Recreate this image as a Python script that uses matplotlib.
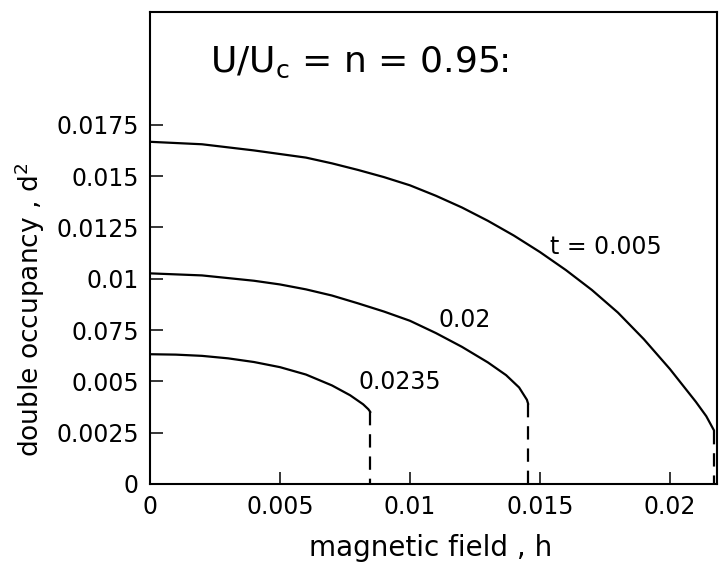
import numpy as np
import matplotlib
matplotlib.use('Agg')
import matplotlib.pyplot as plt

plt.rcParams['font.family'] = ['DejaVu Sans']
plt.rcParams['mathtext.default'] = 'regular'

# double occupancy d^2 vs magnetic field h, one curve per temperature t
h_t0005 = [0.0, 0.002, 0.004, 0.006, 0.007, 0.008, 0.009, 0.010, 0.011, 0.012,
           0.013, 0.014, 0.015, 0.016, 0.017, 0.018, 0.019, 0.020, 0.021,
           0.0214, 0.0217]
d2_t0005 = [0.01667, 0.01655, 0.01625, 0.01590, 0.01562, 0.01530, 0.01495, 0.01455,
            0.01404, 0.01347, 0.01282, 0.01210, 0.01130, 0.01042, 0.00945, 0.00835,
            0.00705, 0.00560, 0.00400, 0.00330, 0.00260]

h_t002 = [0.0, 0.002, 0.004, 0.005, 0.006, 0.007, 0.008, 0.009, 0.010, 0.011,
          0.012, 0.013, 0.0137, 0.0142, 0.0145, 0.01455]
d2_t002 = [0.01026, 0.01016, 0.00990, 0.00972, 0.00948, 0.00918, 0.00880, 0.00840,
           0.00795, 0.00735, 0.00668, 0.00592, 0.00530, 0.00470, 0.00410, 0.00389]

h_t00235 = [0.0, 0.001, 0.002, 0.003, 0.004, 0.005, 0.006, 0.007, 0.0077,
            0.0082, 0.0084, 0.00848]
d2_t00235 = [0.00632, 0.00630, 0.00624, 0.00612, 0.00594, 0.00569, 0.00533, 0.00480,
             0.00432, 0.00388, 0.00364, 0.00350]

curves = [(h_t0005, d2_t0005), (h_t002, d2_t002), (h_t00235, d2_t00235)]
curve_labels = ['t = 0.005', '0.02', '0.0235']
label_pos = [(0.01754, 0.01152), (0.01209, 0.00797), (0.0096, 0.00496)]

xticks = [0.0, 0.005, 0.01, 0.015, 0.02]
xticklabels = ['0', '0.005', '0.01', '0.015', '0.02']
yticks = [0.0, 0.0025, 0.005, 0.0075, 0.01, 0.0125, 0.015, 0.0175]
yticklabels = ['0', '0.0025', '0.005', '0.075', '0.01', '0.0125', '0.015', '0.0175']

fig = plt.figure(figsize=(7.21, 5.66), dpi=100)
ax = fig.add_axes([0.208, 0.145, 0.786, 0.834])

for (h, d2), lab, (lx, ly) in zip(curves, curve_labels, label_pos):
    ax.plot(h, d2, 'k-', lw=1.6, solid_capstyle='round', solid_joinstyle='round')
    # first-order jump: dashed drop to zero
    ax.plot([h[-1], h[-1]], [d2[-1], 0.0], 'k-', lw=1.6, dashes=(6, 4))
    ax.text(lx, ly, lab, fontsize=17, ha='center', va='center')

ax.text(0.0023, 0.02056, 'U/U$_c$ = n = 0.95:', fontsize=26, ha='left', va='center')

ax.set_xlim(0, 0.0218)
ax.set_ylim(0, 0.0230)
ax.set_xticks(xticks)
ax.set_xticklabels(xticklabels)
ax.set_yticks(yticks)
ax.set_yticklabels(yticklabels)
ax.tick_params(direction='in', length=9, width=1.1, labelsize=17, pad=8)

for sp in ax.spines.values():
    sp.set_linewidth(1.5)

ax.set_xlabel('magnetic field , h', fontsize=20, va='center')
ax.set_ylabel('double occupancy , d$^2$', fontsize=19, va='center')
ax.xaxis.set_label_coords(0.496, -0.136)
ax.yaxis.set_label_coords(-0.212, 0.369)

fig.savefig('out.png', dpi=100)
